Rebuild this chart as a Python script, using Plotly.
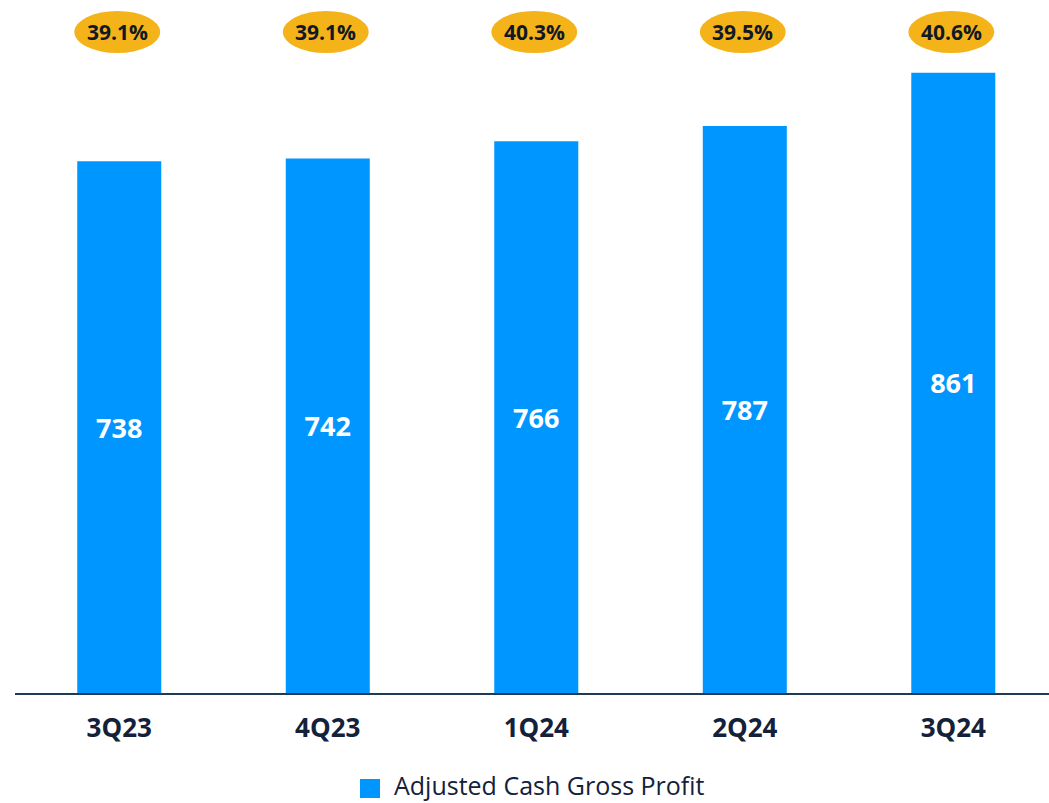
import plotly.graph_objects as go

# Quarterly adjusted cash gross profit and margin
quarters = ["3Q23", "4Q23", "1Q24", "2Q24", "3Q24"]
gross_profit = [738, 742, 766, 787, 861]
margins = ["39.1%", "39.1%", "40.3%", "39.5%", "40.6%"]
series_name = "Adjusted Cash Gross Profit"

BAR_BLUE = "#0096FF"
GOLD = "#F5B31A"
NAVY = "#14213A"
BADGE_TEXT = "#111827"
AXIS_NAVY = "#1F3B57"
FONT = "Open Sans"

W, H = 1049, 803
PLOT_BOTTOM_PX = 693  # y pixel of the baseline
PLOT_LEFT_PX = 15


def paper_y(px):
    """Convert a pixel row (from the top) to paper y."""
    return (PLOT_BOTTOM_PX - px) / PLOT_BOTTOM_PX


def paper_x(px):
    return (px - PLOT_LEFT_PX) / (W - PLOT_LEFT_PX)


fig = go.Figure(
    go.Bar(
        x=quarters,
        y=gross_profit,
        width=0.403,
        marker=dict(color=BAR_BLUE, line=dict(width=0)),
        text=[str(v) for v in gross_profit],
        textposition="inside",
        insidetextanchor="middle",
        textangle=0,
        textfont=dict(family=FONT, size=27, color="white", weight="bold"),
        name=series_name,
        showlegend=False,
    )
)

# Margin badges: gold ellipses with percentage text above each bar
badge_y = paper_y(32)
for q, m in zip(quarters, margins):
    fig.add_shape(
        type="circle",
        xref="x", yref="paper",
        xsizemode="pixel", ysizemode="pixel",
        xanchor=q, yanchor=badge_y,
        x0=-45, x1=41, y0=-21, y1=21,
        fillcolor=GOLD, line=dict(width=0),
        layer="above",
    )
    fig.add_annotation(
        x=q, y=badge_y, xref="x", yref="paper",
        xanchor="center", yanchor="middle",
        text=m, showarrow=False,
        xshift=-2,
        font=dict(family=FONT, size=21, color=BADGE_TEXT, weight="bold"),
    )

# Legend drawn as a swatch plus label below the axis
fig.add_shape(
    type="rect", xref="paper", yref="paper",
    x0=paper_x(360), x1=paper_x(380),
    y0=paper_y(798), y1=paper_y(779),
    fillcolor=BAR_BLUE, line=dict(width=0),
)
fig.add_annotation(
    x=paper_x(393), y=paper_y(H), xref="paper", yref="paper",
    xanchor="left", yanchor="bottom",
    text=series_name, showarrow=False, borderpad=0,
    font=dict(family=FONT, size=25, color=NAVY),
)

fig.update_layout(
    width=W, height=H,
    margin=dict(l=PLOT_LEFT_PX, r=0, t=0, b=H - PLOT_BOTTOM_PX, pad=0),
    paper_bgcolor="white",
    plot_bgcolor="white",
    bargap=0.6,
    xaxis=dict(
        range=[-0.5, 4.459],
        showline=True, linecolor=AXIS_NAVY, linewidth=2,
        showgrid=False, zeroline=False,
        ticks="outside", ticklen=11, tickcolor="rgba(0,0,0,0)",
        tickfont=dict(family=FONT, size=26, color=NAVY, weight="bold"),
        fixedrange=True,
    ),
    yaxis=dict(
        range=[0, 962], visible=False, showgrid=False, zeroline=False,
        fixedrange=True,
    ),
)

fig.write_html("out.html")
